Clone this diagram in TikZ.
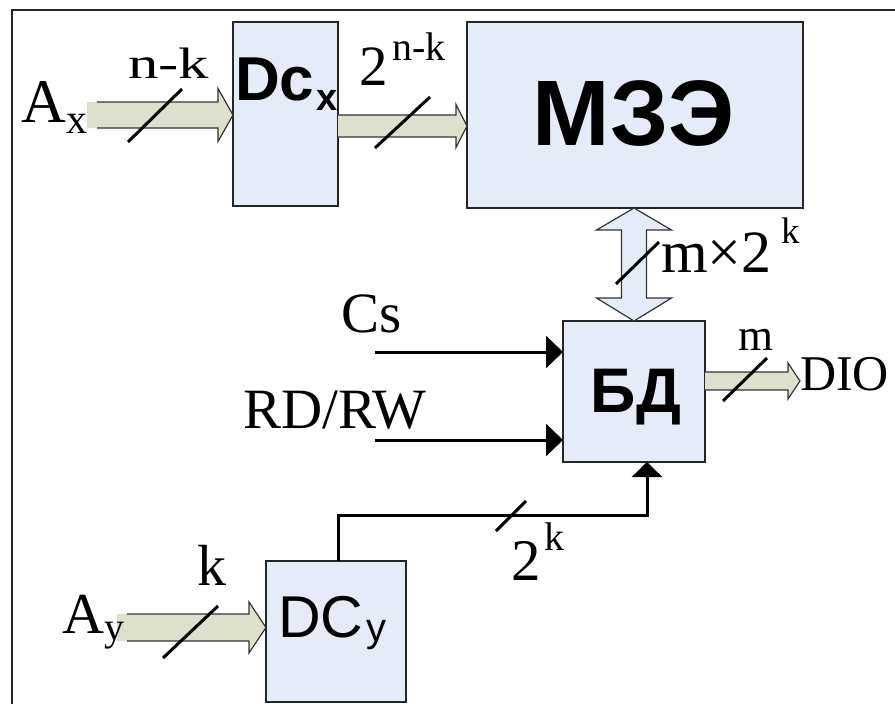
\documentclass[tikz,border=0pt]{standalone}
\usepackage{fontspec}
\setmainfont{Liberation Serif}
\setsansfont{Liberation Sans}
\usetikzlibrary{calc,arrows.meta}
\definecolor{boxfill}{RGB}{230,236,247}
\definecolor{busfill}{RGB}{220,224,204}
\newcommand{\fs}[1]{\fontsize{#1}{#1}\selectfont}
\newcommand{\busarrow}[6]{%
  \fill[busfill] ($(#1)+(0,-#3)$) -- ($(#2)+(-#5,-#3)$) -- ($(#2)+(-#5,-#4)$) -- (#2) -- ($(#2)+(-#5,#4)$) -- ($(#2)+(-#5,#3)$) -- ($(#1)+(0,#3)$) -- cycle;
  \draw[busline] ($(#1)+(#6,-#3)$) -- ($(#2)+(-#5,-#3)$) -- ($(#2)+(-#5,-#4)$) -- (#2) -- ($(#2)+(-#5,#4)$) -- ($(#2)+(-#5,#3)$) -- ($(#1)+(#6,#3)$);
}
\tikzset{
  blk/.style={draw=black!85, line width=1.3pt, fill=boxfill, inner sep=0pt, outer sep=0pt},
  busline/.style={draw=black!80, line width=1.2pt, line join=miter},
  sig/.style={line width=3pt, -{Triangle[length=17pt,width=32pt]}},
  slash/.style={line width=3pt},
  txt/.style={inner sep=0pt, outer sep=0pt, anchor=base west},
  frame/.style={line width=2pt, draw=black!85}
}
\begin{document}
\begin{tikzpicture}[x=1pt,y=-1pt]
\useasboundingbox (0,0) rectangle (895,704);
\coordinate (f1) at (12,710);
\coordinate (f2) at (12,10);
\coordinate (f3) at (900,10);
\draw[frame] (f1) -- (f2) -- (f3);

% boxes
\node[blk, minimum width=105pt, minimum height=184pt] (dcx) at (285.5,114) {};
\node[blk, minimum width=336pt, minimum height=186pt] (mze) at (635,115) {};
\node[blk, minimum width=142pt, minimum height=141pt] (bd) at (634,391.5) {};
\node[blk, minimum width=140pt, minimum height=141pt] (dcy) at (336,631.5) {};

% bus arrows
\coordinate (axs) at (87,115);
\coordinate (axt) at (axs -| dcx.west);
\busarrow{axs}{axt}{13}{26.5}{15}{10}
\coordinate (nks) at (dcx.east |- 0,126);
\coordinate (nkt) at (mze.west |- 0,126);
\busarrow{nks}{nkt}{11}{21.5}{11}{0}
\coordinate (ays) at (117,627.5);
\coordinate (ayt) at (ays -| dcy.west);
\busarrow{ays}{ayt}{13.5}{25.5}{17}{10}
\coordinate (dios) at (bd.east |- 0,381);
\coordinate (diot) at (800,381);
\busarrow{dios}{diot}{9}{18}{12}{0}

% double arrow between MZE and BD
\coordinate (dt) at (bd.north |- mze.south);
\coordinate (db) at (bd.north);
\filldraw[busline, fill=boxfill] (dt) -- ($(dt)+(37.5,22)$) -- ($(dt)+(12.5,22)$) -- ($(db)+(12.5,-23)$) -- ($(db)+(37.5,-23)$) -- (db)
  -- ($(db)+(-37.5,-23)$) -- ($(db)+(-12.5,-23)$) -- ($(dt)+(-12.5,22)$) -- ($(dt)+(-37.5,22)$) -- cycle;

% signal lines
\coordinate (csin) at (375,352);
\coordinate (rdin) at (375,440);
\draw[sig] (csin) -- (csin -| bd.west);
\draw[sig] (rdin) -- (rdin -| bd.west);
\coordinate (bdin) at ($(bd.south)+(13,0)$);
\draw[line width=3pt, -{Triangle[length=15pt,width=30pt]}] ($(dcy.north)+(2,0)$) |- ($(bdin)+(0,53)$) -- (bdin);

% slashes
\draw[slash] (128,142) -- (182,89);
\draw[slash] (375,148) -- (430,97);
\draw[slash] (616,284) -- (659,242);
\draw[slash] (723,401) -- (767,358);
\draw[slash] (496,531) -- (526,501);
\draw[slash] (163,658) -- (218,606);

% box labels
\node[txt, font=\sffamily\bfseries\fs{62}] (dcxt) at (235,100) {Dc};
\node[txt, font=\sffamily\bfseries\fs{38}] (dcxs) at (316,110) {x};
\node[inner sep=0pt, anchor=base, font=\sffamily\bfseries\fs{93}] (mzet) at (633.5,145) {МЗЭ};
\node[inner sep=0pt, anchor=base, font=\sffamily\bfseries\fs{63}] (bdt) at (636,412) {БД};
\node[txt, font=\sffamily\fs{59}] (dcyt) at (278,637) {DC};
\node[txt, font=\sffamily\fs{40}] (dcys) at (366,641) {y};

% serif labels
\node[txt, font=\fs{62}] (axa) at (21,122) {A};
\node[txt, font=\fs{42}] (axx) at (66,133) {x};
\node[txt, font=\fs{44}] (nk) at (128,78) {\scalebox{1.38}[1]{n-k}};
\node[txt, font=\fs{57}] (two1) at (359,85) {2};
\node[txt, font=\fs{40}] (two1s) at (392,60) {n-k};
\node[txt, font=\fs{60}] (mx) at (661,272) {m×2};
\node[txt, font=\fs{37}] (mxs) at (781,243) {k};
\node[txt, font=\fs{57}] (cs) at (341,332) {Cs};
\node[txt, font=\fs{57}] (rd) at (243,428) {RD/RW};
\node[txt, font=\fs{45}] (m) at (738,350) {m};
\node[txt, font=\fs{50}] (dio) at (800,390) {DIO};
\node[txt, font=\fs{59}] (two2) at (511,580) {2};
\node[txt, font=\fs{40}] (two2s) at (544,550) {k};
\node[txt, font=\fs{58}] (aya) at (62,633) {A};
\node[txt, font=\fs{40}] (ayy) at (104.5,640) {y};
\node[txt, font=\fs{58}] (k) at (197,585) {k};
\end{tikzpicture}
\end{document}
